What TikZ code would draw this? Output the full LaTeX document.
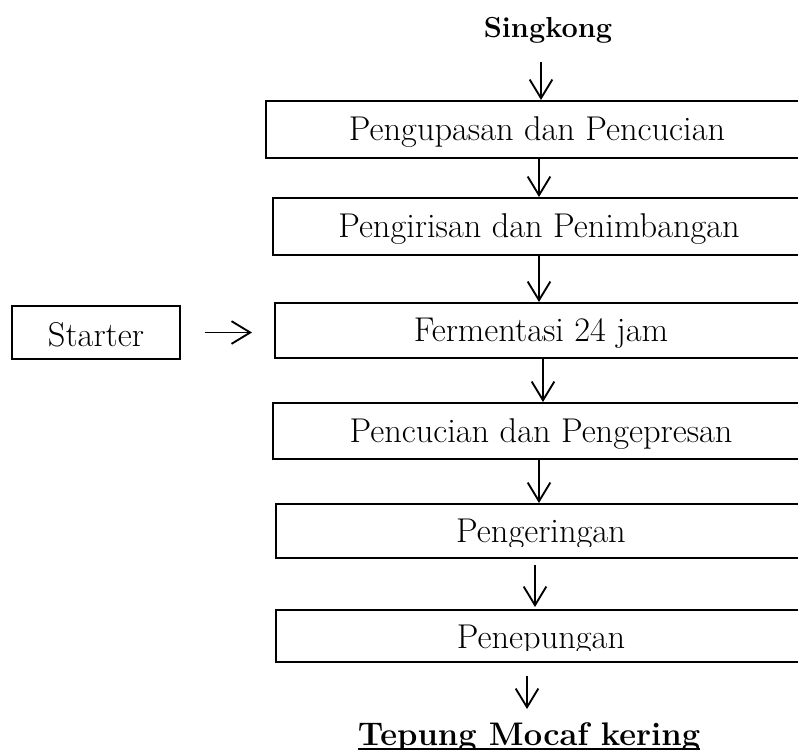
\documentclass[tikz,border=0pt]{standalone}
\usetikzlibrary{arrows.meta}
\newcommand\stepfont{\fontsize{25.8}{30}\selectfont}
\newcommand\headfont{\fontsize{21.7}{26}\selectfont\bfseries}
\newcommand\tailfont{\fontsize{24.5}{29}\selectfont\bfseries}
\tikzset{
  stepbox/.style={draw, line width=1.5pt, inner sep=0pt, minimum height=42pt,
    text height=16.5pt, text depth=0pt, font=\stepfont},
  steptext/.style={inner sep=0pt, text height=16.5pt, text depth=0pt, font=\stepfont},
  startbox/.style={draw, line width=1pt, inner sep=0pt, minimum width=126pt,
    minimum height=39.75pt, text height=20.25pt, text depth=0pt, font=\stepfont},
  headtext/.style={inner sep=0pt, anchor=base, font=\headfont},
  flow/.style={line width=1.4pt, -{Straight Barb[length=14pt,width=17pt,line width=1.4pt]}},
}
\begin{document}
\begin{tikzpicture}[x=0.75pt,y=-0.75pt]
\clip (0,0) rectangle (798,753);
\fill[white] (0,0) rectangle (798,753);

% title
\node[headtext] (sing) at (548,37) {Singkong};

% boxes
\node[stepbox, minimum width=406.5pt, minimum height=42.75pt] (b1) at (537,129.5) {Pengupasan dan Pencucian};
\node[stepbox, minimum width=399pt, minimum height=42.75pt] (b2) at (539,226.5) {Pengirisan dan Penimbangan};
\node[stepbox, minimum width=399pt, minimum height=41.25pt] (b3) at (541,330.5) {Fermentasi 24 jam};
\node[stepbox, minimum width=402pt] (b4) at (541,431) {Pencucian dan Pengepresan};
\node[stepbox, minimum width=397.5pt, minimum height=40.5pt] (b5) at (541,531) {};
\node[stepbox, minimum width=397.5pt, minimum height=39pt] (b6) at (541,636) {};

\begin{scope}
  \clip (270,504) rectangle (820,546);
  \node[steptext] (t5) at (b5.center) {Pengeringan};
\end{scope}
\begin{scope}
  \clip (270,610) rectangle (820,650);
  \node[steptext] (t6) at ([yshift=-1pt]b6.center) {Penepungan};
\end{scope}

% starter
\node[startbox] (st) at (96,332.5) {Starter};

% final product
\begin{scope}
  \clip (0,0) rectangle (798,747);
  \node[headtext, font=\tailfont] (tep) at (529,745) {Tepung Mocaf kering};
\end{scope}
\draw[line width=1.5pt] ([yshift=-3pt]tep.base west) -- ([yshift=-3pt]tep.base east);

% column coordinates for the arrows
\coordinate (c1) at (541,62);
\coordinate (c2) at (539,0);
\coordinate (c3) at (539,0);
\coordinate (c4) at (543,0);
\coordinate (c5) at (539,0);
\coordinate (c6) at (535,0);
\coordinate (c7) at (527,0);
\coordinate (e7) at (527,709);

% arrows
\draw[flow] (c1) -- (c1 |- b1.north);
\draw[flow] (b1.south -| c2) -- (b2.north -| c2);
\draw[flow] (b2.south -| c3) -- (b3.north -| c3);
\draw[flow] (b3.south -| c4) -- (b4.north -| c4);
\draw[flow] (b4.south -| c5) -- (b5.north -| c5);
\draw[flow, shorten <=4.5pt, shorten >=1.5pt] (b5.south -| c6) -- (b6.north -| c6);
\draw[flow, line width=1.1pt, shorten <=9.75pt] (b6.south -| c7) -- (e7);
\draw[flow, shorten <=18pt, shorten >=16.5pt] (st.east) -- (st.east -| b3.west);
\end{tikzpicture}
\end{document}
